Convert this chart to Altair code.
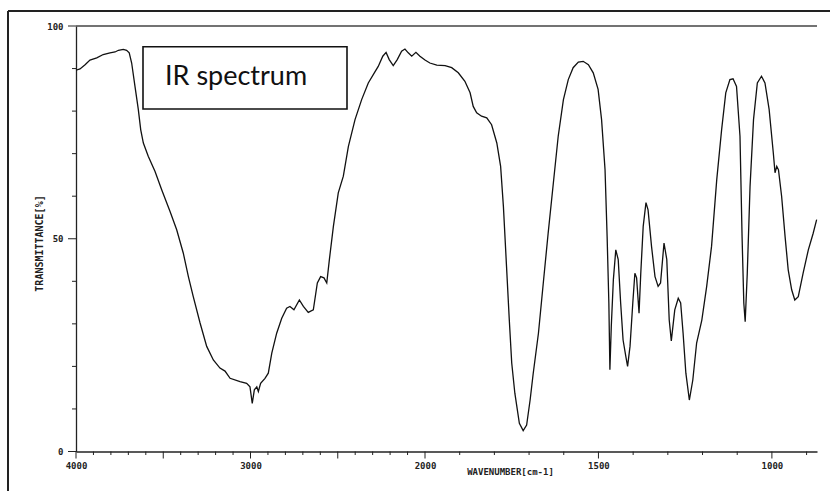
import altair as alt
import pandas as pd

wavenumber = [
    4000, 3977, 3948, 3920, 3881, 3844, 3805, 3776, 3757, 3729, 3710, 3695, 3681, 3662,
    3643, 3629, 3614, 3586, 3547, 3509, 3461, 3423, 3385, 3356, 3328, 3289, 3251, 3213,
    3175, 3146, 3117, 3060, 3022, 3003, 2990, 2978, 2964, 2955, 2942, 2917, 2898, 2878,
    2850, 2821, 2793, 2774, 2751, 2720, 2697, 2669, 2640, 2617, 2598, 2579, 2563, 2548,
    2525, 2497, 2468, 2439, 2401, 2363, 2325, 2287, 2268, 2242, 2223, 2205, 2182, 2159,
    2134, 2115, 2096, 2076, 2052, 2029, 2000, 1986, 1966, 1942, 1923, 1904, 1885, 1870,
    1861, 1851, 1837, 1822, 1808, 1793, 1782, 1774, 1765, 1757, 1750, 1741, 1728, 1717,
    1707, 1697, 1688, 1673, 1659, 1645, 1630, 1616, 1601, 1587, 1573, 1558, 1544, 1529,
    1515, 1501, 1491, 1481, 1475, 1470, 1467, 1463, 1457, 1450, 1443, 1436, 1429, 1421,
    1416, 1409, 1401, 1395, 1390, 1383, 1378, 1371, 1363, 1357, 1347, 1337, 1328, 1321,
    1311, 1303, 1296, 1290, 1280, 1270, 1263, 1256, 1248, 1238, 1228, 1217, 1202, 1188,
    1174, 1159, 1145, 1133, 1121, 1112, 1102, 1092, 1086, 1081, 1077, 1071, 1063, 1053,
    1042, 1030, 1020, 1008, 996, 991, 986, 981, 972, 962, 953, 943, 934, 924, 910, 895,
    881, 871,
]
transmittance = [
    89.6, 89.9, 90.9, 92.0, 92.5, 93.3, 93.7, 93.9, 94.3, 94.5, 94.3, 93.7, 91.3, 85.8,
    80.4, 75.6, 72.5, 69.4, 65.8, 61.5, 56.4, 52.1, 46.6, 41.1, 36.4, 30.2, 24.7, 21.5,
    19.6, 18.9, 17.2, 16.4, 16.0, 15.2, 11.3, 14.5, 15.2, 14.1, 16.0, 17.2, 18.4, 23.1,
    27.8, 31.3, 33.7, 34.1, 33.3, 35.6, 34.1, 32.7, 33.3, 39.6, 41.1, 40.8, 39.6, 45.1,
    52.9, 60.8, 64.7, 71.7, 78.0, 82.7, 86.6, 89.2, 90.5, 92.9, 93.8, 92.1, 90.7, 92.1,
    94.1, 94.6, 93.7, 92.9, 93.8, 92.9, 92.0, 91.3, 90.8, 90.7, 90.2, 89.0, 87.0, 84.3,
    81.1, 79.6, 78.8, 78.4, 76.8, 72.5, 67.0, 57.6, 43.5, 30.9, 20.8, 13.7, 6.6, 4.9,
    6.2, 12.1, 18.4, 27.8, 39.6, 51.3, 63.1, 74.1, 82.7, 87.4, 90.2, 91.5, 91.7, 90.9,
    89.0, 85.1, 78.0, 66.2, 50.5, 34.9, 19.2, 29.4, 40.4, 47.4, 45.1, 34.9, 26.2, 22.3,
    20.0, 24.7, 34.9, 41.9, 40.8, 32.5, 41.9, 52.9, 58.5, 56.8, 48.2, 41.1, 38.8, 39.6,
    49.0, 45.1, 30.9, 26.0, 33.3, 36.0, 34.9, 27.8, 18.4, 12.1, 16.8, 25.5, 30.9, 38.8,
    48.2, 63.9, 75.6, 84.3, 87.4, 87.6, 85.8, 74.1, 50.5, 34.9, 30.5, 41.9, 62.3, 78.0,
    86.6, 88.2, 86.6, 80.4, 70.2, 65.5, 67.0, 66.2, 60.0, 50.5, 42.7, 38.0, 35.6, 36.4, 41.9, 47.4,
    51.3, 54.5,
]

x_major_ticks = list(range(4000, 899, -500))
x_minor_ticks = [v for v in range(4000, 899, -100) if v % 500 != 0]
x_labels = [4000, 3000, 2000, 1500, 1000]
y_major_ticks = [0, 50, 100]
y_minor_ticks = [v for v in range(0, 101, 10) if v % 50 != 0]
x_title = "WAVENUMBER[cm-1]"
y_title = "TRANSMITTANCE[%]"
box_text = "IR spectrum"

df = pd.DataFrame({"wavenumber": wavenumber, "transmittance": transmittance})

W, H = 741, 425.5
MONO = "DejaVu Sans Mono"
AXIS_COLOR = "#222"

x_scale = alt.Scale(domain=[4000, 2000, 870], range=[0, 349, W], nice=False, zero=False)
y_scale = alt.Scale(domain=[0, 100], nice=False, zero=False)

x_axis = alt.Axis(
    values=x_labels, format="d", grid=False, ticks=False,
    labelOverlap=False, labelFlush=False,
    labelFont=MONO, labelFontSize=9, labelFontWeight="bold", labelColor="#222",
    labelPadding=10,
    domainColor=AXIS_COLOR, domainWidth=1.3,
    title=x_title, titleFont=MONO, titleFontSize=9, titleFontWeight="bold",
    titleColor="#222", titleX=434, titleY=20, titleAlign="center",
    titleBaseline="middle", titleAngle=0,
)
y_axis = alt.Axis(
    values=y_major_ticks, grid=False, ticks=False,
    labelOverlap=False, labelFlush=False,
    labelFont=MONO, labelFontSize=9, labelFontWeight="bold", labelColor="#222",
    labelPadding=13,
    domainColor=AXIS_COLOR, domainWidth=1.3,
    title=y_title, titleFont=MONO, titleFontSize=10, titleFontWeight="bold",
    titleColor="#222", titleX=-37, titleY=217, titleAlign="center",
    titleBaseline="middle", titleAngle=270,
)

line = alt.Chart(df).mark_line(color="#111", strokeWidth=1.3).encode(
    x=alt.X("wavenumber:Q", scale=x_scale, axis=x_axis),
    y=alt.Y("transmittance:Q", scale=y_scale, axis=y_axis),
)


def x_tick_layer(values, length):
    return alt.Chart(pd.DataFrame({"wavenumber": values})).mark_rule(
        color=AXIS_COLOR, strokeWidth=1
    ).encode(
        x=alt.X("wavenumber:Q", scale=x_scale, axis=None),
        y=alt.value(H), y2=alt.value(H + length),
    )


def y_tick_layer(values, length):
    return alt.Chart(pd.DataFrame({"transmittance": values})).mark_rule(
        color=AXIS_COLOR, strokeWidth=1
    ).encode(
        y=alt.Y("transmittance:Q", scale=y_scale, axis=None),
        x=alt.value(-length), x2=alt.value(0),
    )


top_line = alt.Chart(pd.DataFrame({"transmittance": [100]})).mark_rule(
    color="#444", strokeWidth=1.5
).encode(y=alt.Y("transmittance:Q", scale=y_scale, axis=None))

one = pd.DataFrame({"k": [0]})
frame_top = alt.Chart(one).mark_rule(color="#222", strokeWidth=2).encode(
    x=alt.value(-68), x2=alt.value(760), y=alt.value(-15)
)
frame_left = alt.Chart(one).mark_rule(color="#222", strokeWidth=2).encode(
    x=alt.value(-68), y=alt.value(-15), y2=alt.value(470)
)

box = alt.Chart(one).mark_rect(fill="white", stroke="#111", strokeWidth=1.6).encode(
    x=alt.value(67), x2=alt.value(271), y=alt.value(20.7), y2=alt.value(83)
)
label = alt.Chart(pd.DataFrame({"txt": [box_text]})).mark_text(
    align="left", baseline="alphabetic", font="Lato", fontSize=27, color="#111"
).encode(x=alt.value(89), y=alt.value(59), text="txt:N")

chart = alt.layer(
    line,
    x_tick_layer(x_major_ticks, 7), x_tick_layer(x_minor_ticks, 3.5),
    y_tick_layer(y_major_ticks, 8), y_tick_layer(y_minor_ticks, 4),
    top_line, frame_top, frame_left, box, label,
).resolve_axis(
    x="independent", y="independent"
).properties(
    width=W, height=H,
    autosize=alt.AutoSizeParams(type="none"),
    padding={"left": 76, "top": 26, "right": 13, "bottom": 39.5},
    background="white",
).configure_view(stroke="transparent")

chart.save("out.html", embed_options={"renderer": "svg", "actions": False})
